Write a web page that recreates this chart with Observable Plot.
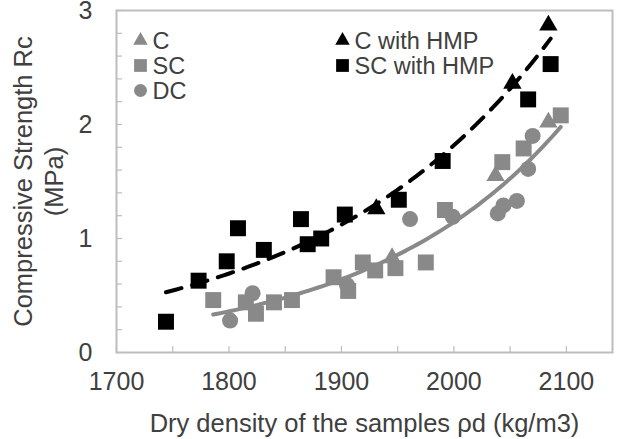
<!DOCTYPE html>
<html>
<head>
<meta charset="utf-8">
<script src="https://cdn.jsdelivr.net/npm/d3@7"></script>
<script src="https://cdn.jsdelivr.net/npm/@observablehq/plot@0.6"></script>
<style>
  html, body { margin: 0; padding: 0; background: #fff; }
  #chart { width: 644px; height: 439px; }
</style>
</head>
<body>
<div id="chart"></div>
<script>
// Compressive strength (MPa) against dry density (kg/m3), per mix
const cX = [1945, 2037, 2084];
const cY = [0.83, 1.55, 2.02];
const scX = [1786, 1815, 1824, 1840, 1856, 1893, 1906, 1919, 1930, 1948, 1975, 1992, 2043, 2062, 2095];
const scY = [0.46, 0.44, 0.34, 0.44, 0.46, 0.66, 0.54, 0.79, 0.72, 0.74, 0.79, 1.25, 1.67, 1.79, 2.08];
const dcX = [1801, 1821, 1905, 1961, 1999, 2039, 2044, 2056, 2066, 2070];
const dcY = [0.28, 0.52, 0.59, 1.17, 1.19, 1.22, 1.29, 1.33, 1.61, 1.90];
const cHmpX = [1931, 2052, 2084];
const cHmpY = [1.26, 2.36, 2.87];
const scHmpX = [1744, 1773, 1798, 1808, 1831, 1864, 1870, 1882, 1903, 1951, 1990, 2066, 2086];
const scHmpY = [0.27, 0.63, 0.80, 1.09, 0.90, 1.17, 0.95, 1.00, 1.21, 1.34, 1.68, 2.22, 2.53];

const seriesNames = ["C", "SC", "DC", "C with HMP", "SC with HMP"];
const xTicks = [1700, 1800, 1900, 2000, 2100];
const yTicks = [0, 1, 2, 3];

const GRAY = "#898989";
const BLACK = "#000000";
const TEXT = "#404040";
const AXIS = "#bdbdbd";

const series = [
  {name: seriesNames[0], xs: cX, ys: cY, symbol: "triangle", fill: GRAY, r: 6.8, lr: 5.4},
  {name: seriesNames[1], xs: scX, ys: scY, symbol: "square", fill: GRAY, r: 9, lr: 7.2},
  {name: seriesNames[2], xs: dcX, ys: dcY, symbol: "circle", fill: GRAY, r: 8, lr: 6.5},
  {name: seriesNames[3], xs: cHmpX, ys: cHmpY, symbol: "triangle", fill: BLACK, r: 6.8, lr: 5.4},
  {name: seriesNames[4], xs: scHmpX, ys: scHmpY, symbol: "square", fill: BLACK, r: 9, lr: 7.2}
];

const toRows = (xs, ys) => xs.map((x, i) => ({x, y: ys[i]}));

// Exponential trendline: least squares on ln(y), drawn over the data's x extent
function expTrend(xs, ys) {
  const mx = d3.mean(xs);
  const my = d3.mean(ys, Math.log);
  let sxy = 0, sxx = 0;
  xs.forEach((x, i) => {
    sxy += (x - mx) * (Math.log(ys[i]) - my);
    sxx += (x - mx) * (x - mx);
  });
  const b = sxy / sxx;
  const [x0, x1] = d3.extent(xs);
  return d3.range(0, 81).map(i => {
    const x = x0 + (x1 - x0) * i / 80;
    return {x, y: Math.exp(my + b * (x - mx))};
  });
}

const grayXs = [...cX, ...scX, ...dcX];
const grayYs = [...cY, ...scY, ...dcY];
const hmpXs = [...cHmpX, ...scHmpX];
const hmpYs = [...cHmpY, ...scHmpY];

// Legend laid out in two columns inside the plot frame
const legendMarks = series.flatMap((s, i) => {
  const col = i < 3 ? 0 : 1;
  const row = i < 3 ? i : i - 3;
  const mx = col === 0 ? 24 : 226;
  const my = 30 + row * 25;
  return [
    Plot.dot([s.name], {frameAnchor: "top-left", dx: mx, dy: my, symbol: s.symbol, r: s.lr, fill: s.fill}),
    Plot.text([s.name], {frameAnchor: "top-left", dx: mx + 12, dy: my + 1, text: d => d, textAnchor: "start", lineAnchor: "middle", fontSize: 23.5, fill: TEXT})
  ];
});

const chart = Plot.plot({
  width: 644,
  height: 439,
  marginLeft: 116,
  marginRight: 32,
  marginTop: 10,
  marginBottom: 87,
  x: {domain: [1700, 2141]},
  y: {domain: [0, 3]},
  style: {fontFamily: "'Liberation Sans', Arial, sans-serif", fontSize: "25px", color: TEXT, background: "#fff"},
  marks: [
    Plot.frame({stroke: AXIS, strokeWidth: 2}),
    // inward tick marks
    Plot.axisY({ticks: d3.range(0, 16).map(i => i / 5), tickSize: 6, dx: 6, text: null, label: null, stroke: AXIS, strokeWidth: 1.2}),
    Plot.axisX({ticks: d3.range(1700, 2141, 50), tickSize: 6, dy: -6, text: null, label: null, stroke: AXIS, strokeWidth: 1.2}),
    // tick labels
    Plot.axisY({ticks: yTicks, tickFormat: d3.format("d"), tickSize: 0, tickPadding: 24, label: null, fill: TEXT}),
    Plot.axisX({ticks: xTicks, tickFormat: d3.format("d"), tickSize: 0, tickPadding: 20, label: null, fill: TEXT}),
    // axis titles
    Plot.text(["Compressive Strength Rc\n(MPa)"], {frameAnchor: "left", dx: -79, rotate: -90, text: d => d, textAnchor: "middle", lineAnchor: "middle", lineHeight: 1.22, fontSize: 25.5, fill: TEXT}),
    Plot.text(["Dry density of the samples ρd (kg/m3)"], {frameAnchor: "bottom", dy: 79, text: d => d, textAnchor: "middle", lineAnchor: "bottom", fontSize: 25.5, fill: TEXT}),
    // data
    ...series.map(s => Plot.dot(toRows(s.xs, s.ys), {x: "x", y: "y", symbol: s.symbol, r: s.r, fill: s.fill})),
    // trendlines
    Plot.line(expTrend(grayXs, grayYs), {x: "x", y: "y", stroke: GRAY, strokeWidth: 4}),
    Plot.line(expTrend(hmpXs, hmpYs), {x: "x", y: "y", stroke: BLACK, strokeWidth: 4, strokeDasharray: "16,11"}),
    ...legendMarks
  ]
});

document.getElementById("chart").appendChild(chart);
</script>
</body>
</html>
